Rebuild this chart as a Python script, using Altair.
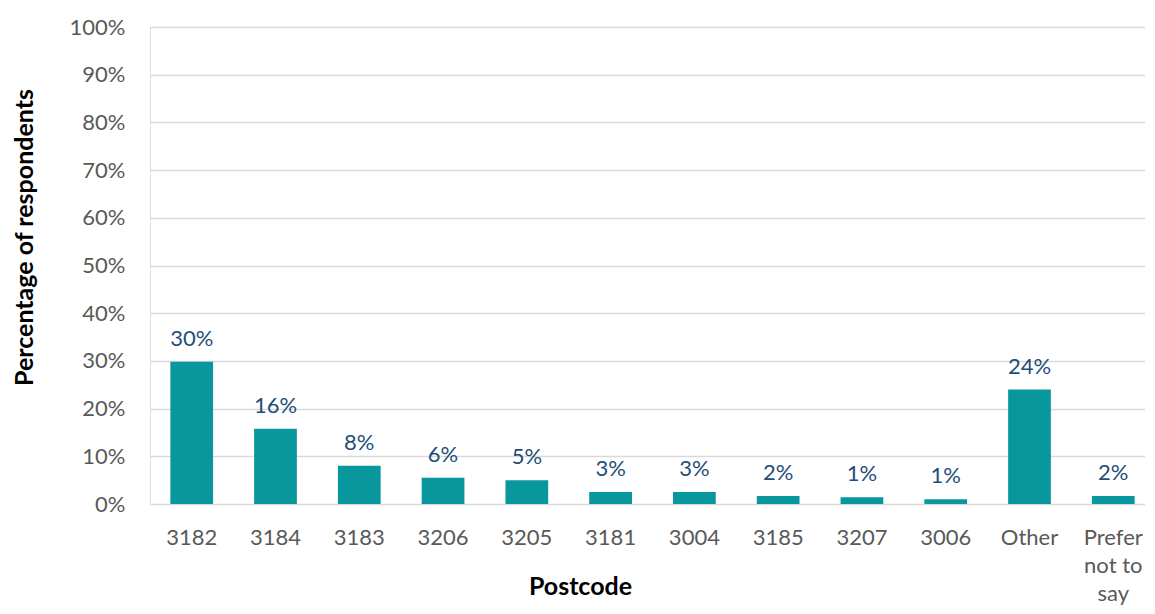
import altair as alt
import pandas as pd

categories = ["3182", "3184", "3183", "3206", "3205", "3181", "3004", "3185", "3207", "3006", "Other", "Prefer not to say"]
values = [0.298, 0.158, 0.080, 0.055, 0.050, 0.025, 0.025, 0.017, 0.014, 0.010, 0.240, 0.017]
labels = ["30%", "16%", "8%", "6%", "5%", "3%", "3%", "2%", "1%", "1%", "24%", "2%"]
y_ticks = [0, 0.1, 0.2, 0.3, 0.4, 0.5, 0.6, 0.7, 0.8, 0.9, 1.0]

df = pd.DataFrame({"cat": categories, "val": values, "lab": labels})

FONT = "Lato"
BAR = "#08979C"
LABEL = "#1F4E79"

xscale = alt.Scale(paddingInner=0.49, paddingOuter=0.243, range=[0, 1005])

x = alt.X("cat:N", sort=categories, scale=xscale,
          axis=alt.Axis(title="Postcode", labelAngle=0, ticks=False, domain=False,
                        labelFont=FONT, labelFontSize=22, labelColor="#595959",
                        labelPadding=23, labelLineHeight=28, labelBaseline="top",
                        labelExpr="datum.value == 'Prefer not to say' ? ['Prefer','not to','say'] : datum.value",
                        titleFont=FONT, titleFontSize=25, titleFontWeight="bold", titleColor="#000000",
                        titleX=430, titleY=82, titleAnchor="start", titleAlign="center", titleBaseline="middle"))
y = alt.Y("val:Q", scale=alt.Scale(domain=[0, 1]),
          axis=alt.Axis(title="Percentage of respondents", values=y_ticks, format=".0%",
                        ticks=False, domain=False, grid=True, gridColor="#D9D9D9", gridWidth=1.3,
                        labelFont=FONT, labelFontSize=22, labelColor="#595959", labelPadding=25,
                        titleFont=FONT, titleFontSize=25, titleFontWeight="bold", titleColor="#000000",
                        titleX=-126, titleY=210, titleAlign="center", titleBaseline="middle"))

bars = alt.Chart(df).mark_bar(color=BAR).encode(x=x, y=y)
text = alt.Chart(df).mark_text(font=FONT, fontSize=22, color=LABEL, baseline="bottom", dy=-11).encode(
    x=alt.X("cat:N", sort=categories, scale=xscale), y="val:Q", text="lab:N")

chart = alt.layer(bars, text).properties(
    width=995, height=477,
    autosize=alt.AutoSizeParams(type="none"),
    padding={"left": 142, "top": 19, "right": 0, "bottom": 102},
).configure_view(stroke=None).configure(background="white")

chart.save("out.html", embed_options={"renderer": "svg", "actions": False})
